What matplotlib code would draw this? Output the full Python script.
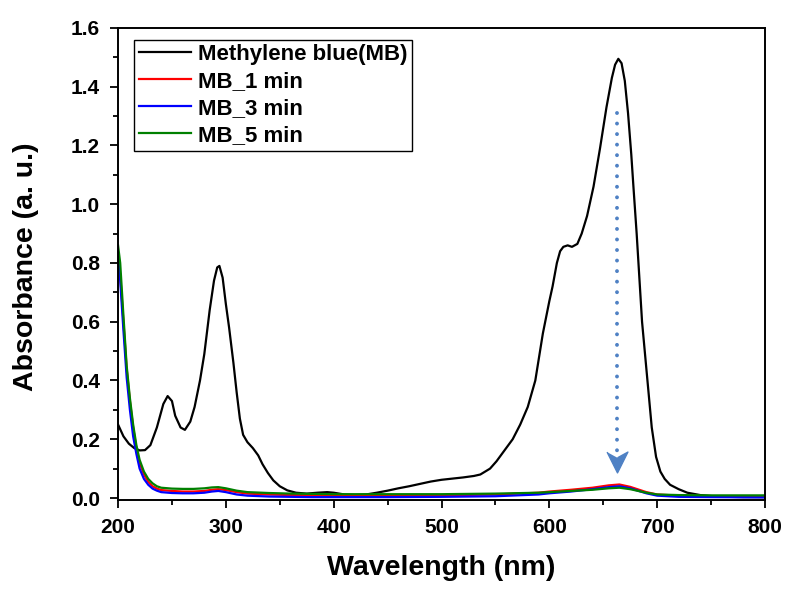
import matplotlib
matplotlib.use('Agg')
from matplotlib import pyplot as plt
from matplotlib.ticker import MultipleLocator

plt.rcParams['font.family'] = ['Liberation Sans', 'DejaVu Sans']
plt.rcParams['font.weight'] = 'bold'

# UV-vis spectrum of methylene blue before treatment
wl_mb = [200, 205, 210, 215, 220, 225, 230, 236, 242, 246, 250, 253, 258, 262,
         267, 271, 276, 280, 285, 289, 292, 294, 297, 300, 303, 307, 310, 313,
         316, 320, 325, 330, 334, 339, 344, 350, 357, 365, 375, 385, 394, 400,
         410, 420, 430, 440, 450, 460, 470, 480, 490, 500, 510, 520, 530, 536,
         545, 551, 558, 566, 573, 580, 587, 594, 600, 603, 607, 610, 613, 617,
         621, 626, 630, 635, 641, 647, 653, 658, 661, 664, 667, 670, 673, 676,
         678, 681, 683, 686, 691, 695, 699, 703, 707, 712, 720, 728, 740, 752,
         765, 780, 800]
abs_mb = [0.25, 0.21, 0.185, 0.17, 0.162, 0.163, 0.18, 0.24, 0.32, 0.347, 0.33,
          0.28, 0.24, 0.232, 0.26, 0.31, 0.40, 0.49, 0.64, 0.74, 0.785, 0.79,
          0.75, 0.66, 0.58, 0.46, 0.36, 0.27, 0.215, 0.19, 0.17, 0.145, 0.115,
          0.085, 0.06, 0.04, 0.026, 0.018, 0.015, 0.018, 0.02, 0.018, 0.012,
          0.01, 0.012, 0.018, 0.025, 0.033, 0.04, 0.048, 0.056, 0.062, 0.066,
          0.07, 0.075, 0.08, 0.1, 0.125, 0.16, 0.2, 0.25, 0.31, 0.40, 0.56,
          0.67, 0.72, 0.80, 0.84, 0.855, 0.86, 0.855, 0.865, 0.9, 0.96, 1.06,
          1.19, 1.33, 1.43, 1.475, 1.495, 1.48, 1.42, 1.31, 1.17, 1.06, 0.9,
          0.78, 0.6, 0.40, 0.24, 0.14, 0.09, 0.065, 0.045, 0.03, 0.018, 0.01,
          0.006, 0.004, 0.003, 0.003]

# spectra after 1, 3 and 5 min
wl_t = [200, 202, 205, 208, 211, 214, 217, 220, 224, 228, 232, 236, 240, 250,
        260, 270, 280, 287, 293, 300, 310, 320, 340, 360, 380, 400, 450, 500,
        550, 590, 600, 620, 640, 655, 665, 675, 690, 700, 720, 750, 800]
abs_1min = [0.80, 0.76, 0.60, 0.44, 0.33, 0.24, 0.17, 0.12, 0.08, 0.055, 0.04,
            0.032, 0.027, 0.024, 0.022, 0.022, 0.024, 0.028, 0.03, 0.027, 0.02,
            0.015, 0.012, 0.01, 0.009, 0.008, 0.008, 0.009, 0.012, 0.018,
            0.022, 0.028, 0.035, 0.043, 0.046, 0.038, 0.02, 0.012, 0.008,
            0.006, 0.005]
abs_3min = [0.82, 0.74, 0.57, 0.41, 0.30, 0.21, 0.15, 0.10, 0.065, 0.045, 0.032,
            0.025, 0.02, 0.017, 0.016, 0.016, 0.018, 0.022, 0.024, 0.02, 0.012,
            0.008, 0.005, 0.004, 0.003, 0.003, 0.003, 0.004, 0.006, 0.012,
            0.016, 0.022, 0.03, 0.037, 0.04, 0.033, 0.016, 0.008, 0.004,
            0.003, 0.002]
abs_5min = [0.86, 0.80, 0.62, 0.45, 0.34, 0.25, 0.18, 0.13, 0.09, 0.065, 0.05,
            0.04, 0.035, 0.032, 0.031, 0.031, 0.033, 0.036, 0.037, 0.033, 0.025,
            0.02, 0.017, 0.015, 0.014, 0.013, 0.013, 0.013, 0.015, 0.018, 0.02,
            0.024, 0.028, 0.033, 0.035, 0.03, 0.018, 0.012, 0.01, 0.009, 0.009]

labels = ['Methylene blue(MB)', 'MB_1 min', 'MB_3 min', 'MB_5 min']

# decrease of the main band
arrow_x = 663
arrow_top = 1.31
arrow_tip = 0.10

fig = plt.figure(figsize=(7.87, 5.89), dpi=100)
ax = fig.add_axes([0.150, 0.151, 0.822, 0.8015])

ax.plot(wl_mb, abs_mb, color='black', lw=1.6, label=labels[0])
ax.plot(wl_t, abs_1min, color='#ff0000', lw=1.6, label=labels[1])
ax.plot(wl_t, abs_3min, color='#0000ff', lw=1.6, label=labels[2])
ax.plot(wl_t, abs_5min, color='#008000', lw=1.6, label=labels[3])

# dotted arrow
ax.plot([arrow_x, arrow_x], [arrow_top, arrow_tip + 0.06], color='#4f81c4',
        lw=2.8, linestyle=(0, (0.01, 2.7)), dash_capstyle='round')
ax.plot([arrow_x], [arrow_tip + 0.022], color='#4f81c4', ms=15, lw=0,
        marker=[(-1, 1), (0, -1), (1, 1), (0, 0.45)])

ax.set_xlim(200, 800)
ax.set_ylim(-0.007, 1.6)
ax.xaxis.set_major_locator(MultipleLocator(100))
ax.xaxis.set_minor_locator(MultipleLocator(50))
ax.yaxis.set_major_locator(MultipleLocator(0.2))
ax.yaxis.set_minor_locator(MultipleLocator(0.1))
ax.yaxis.set_major_formatter(plt.FuncFormatter(lambda v, p: '%.1f' % v))
ax.tick_params(which='major', direction='out', length=6, width=1.3,
               labelsize=15, pad=7)
ax.tick_params(which='minor', direction='out', length=3.5, width=1.3)
for s in ax.spines.values():
    s.set_linewidth(1.4)

ax.set_xlabel('Wavelength (nm)', fontsize=20.5, fontweight='bold', labelpad=13)
ax.set_ylabel('Absorbance (a. u.)', fontsize=20.5, fontweight='bold')
ax.yaxis.set_label_coords(-0.122, 0.494)

leg = ax.legend(loc='upper left', bbox_to_anchor=(0.025, 0.975),
                borderaxespad=0, fontsize=16, handlelength=2.35,
                handletextpad=0.3, labelspacing=0.27, borderpad=0.2,
                fancybox=False, framealpha=1, edgecolor='black')
leg.get_frame().set_linewidth(1.0)
for t in leg.get_texts():
    t.set_fontweight('bold')

plt.savefig('out.png', dpi=100)
